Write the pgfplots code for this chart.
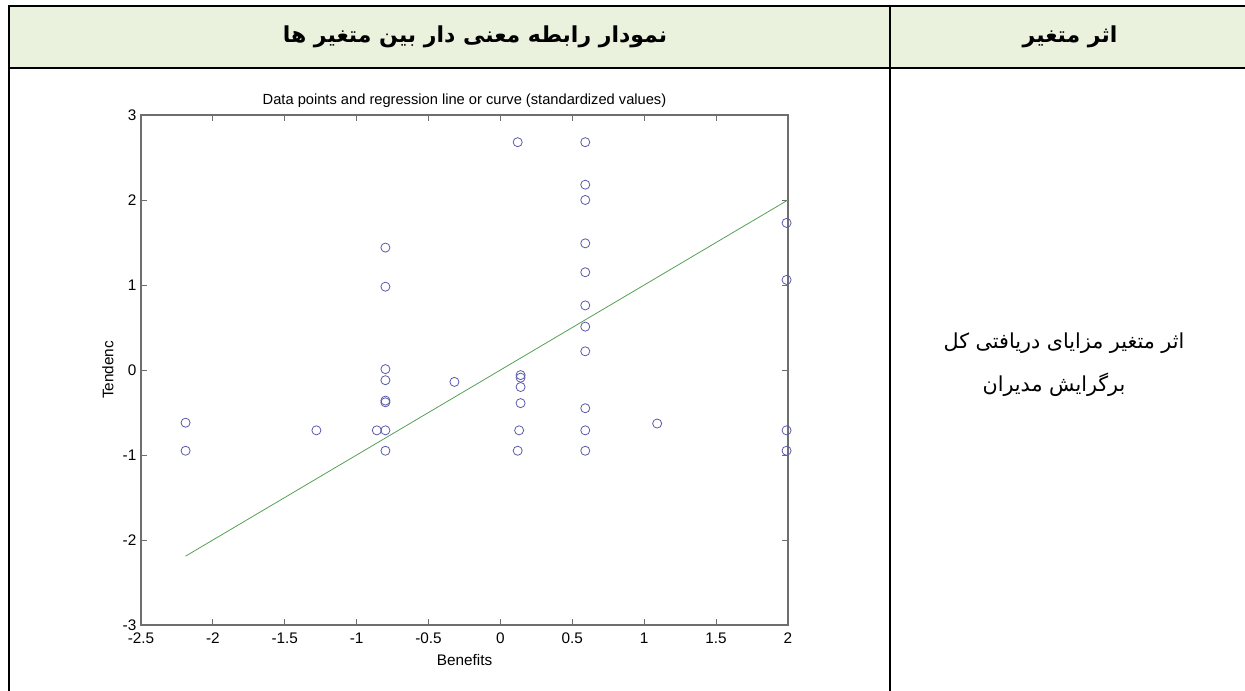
\documentclass[border=0pt]{standalone}
\usepackage{pgfplots}
\pgfplotsset{compat=1.18}
\usepackage{fontspec}
\setmainfont{Liberation Sans}
\newfontfamily\arabicfont[Script=Arabic]{DejaVu Sans}
\TeXXeTstate=1
\definecolor{headfill}{RGB}{234,241,221}
\definecolor{axgray}{RGB}{110,110,110}
\definecolor{ptblue}{RGB}{90,90,170}
\definecolor{fitgreen}{RGB}{85,160,85}

\begin{document}
\begin{tikzpicture}[x=0.75pt,y=0.75pt]
% page in pixels, y measured from the bottom
\path[use as bounding box] (0,0) rectangle (1245,691);

% table
\fill[headfill] (9,684.5) rectangle (1245,623.3);
\draw[line width=1.5pt] (1245,684.5) -- (9,684.5) -- (9,0);
\draw[line width=1.5pt] (9,623.3) -- (1245,623.3);
\draw[line width=1.5pt] (890,684.5) -- (890,0);

\node at (475,654) {\arabicfont\bfseries\fontsize{16.5}{20}\selectfont\beginR نمودار رابطه معنی دار بین متغیر ها\endR};
\node at (1070,654) {\arabicfont\bfseries\fontsize{16.5}{20}\selectfont\beginR اثر متغیر\endR};
\node at (1064,348) {\arabicfont\fontsize{15.5}{18}\selectfont\beginR اثر متغیر مزایای دریافتی کل\endR};
\node at (1054,306) {\arabicfont\fontsize{15.5}{18}\selectfont\beginR برگرایش مدیران\endR};

\begin{axis}[
    at={(105.75pt,49.5pt)}, anchor=south west,
    scale only axis, width=485.25pt, height=382.5pt,
    xmin=-2.5, xmax=2, ymin=-3, ymax=3,
    xtick={-2.5,-2,...,2}, ytick={-3,-2,...,3},
    tick align=inside, tick pos=both,
    major tick length=4.5pt,
    axis line style={axgray, line width=0.8pt},
    every tick/.style={axgray, line width=0.6pt},
    /pgf/number format/assume math mode=true,
    ticklabel style={font=\fontsize{11.5}{13}\selectfont},
    xticklabel style={yshift=-2.5pt},
    title={Data points and regression line or curve (standardized values)},
    title style={font=\fontsize{11}{13}\selectfont, yshift=-4pt},
    xlabel={Benefits}, ylabel={Tendenc},
    label style={font=\fontsize{11.5}{13}\selectfont},
    xlabel style={yshift=-1pt},
    clip=false,
]
\addplot[fitgreen, line width=0.6pt] coordinates {(-2.19,-2.19) (2.0,2.0)};
\addplot[only marks, mark=o, mark size=3.4pt, mark options={ptblue, line width=0.6pt}] coordinates {
(-2.19,-0.62) (-2.19,-0.95) (-1.28,-0.71) (-0.86,-0.71) (-0.80,-0.71)
(-0.80,-0.95) (-0.80,-0.36) (-0.80,-0.38) (-0.80,-0.12) (-0.80,0.01)
(-0.80,0.98) (-0.80,1.44) (-0.32,-0.14)
(0.12,2.68) (0.14,-0.06) (0.14,-0.09) (0.14,-0.20) (0.14,-0.39)
(0.13,-0.71) (0.12,-0.95)
(0.59,2.68) (0.59,2.18) (0.59,2.00) (0.59,1.49) (0.59,1.15) (0.59,0.76)
(0.59,0.51) (0.59,0.22) (0.59,-0.45) (0.59,-0.71) (0.59,-0.95)
(1.09,-0.63)
(1.99,1.73) (1.99,1.06) (1.99,-0.71) (1.99,-0.95)
};
\end{axis}
\end{tikzpicture}
\end{document}
